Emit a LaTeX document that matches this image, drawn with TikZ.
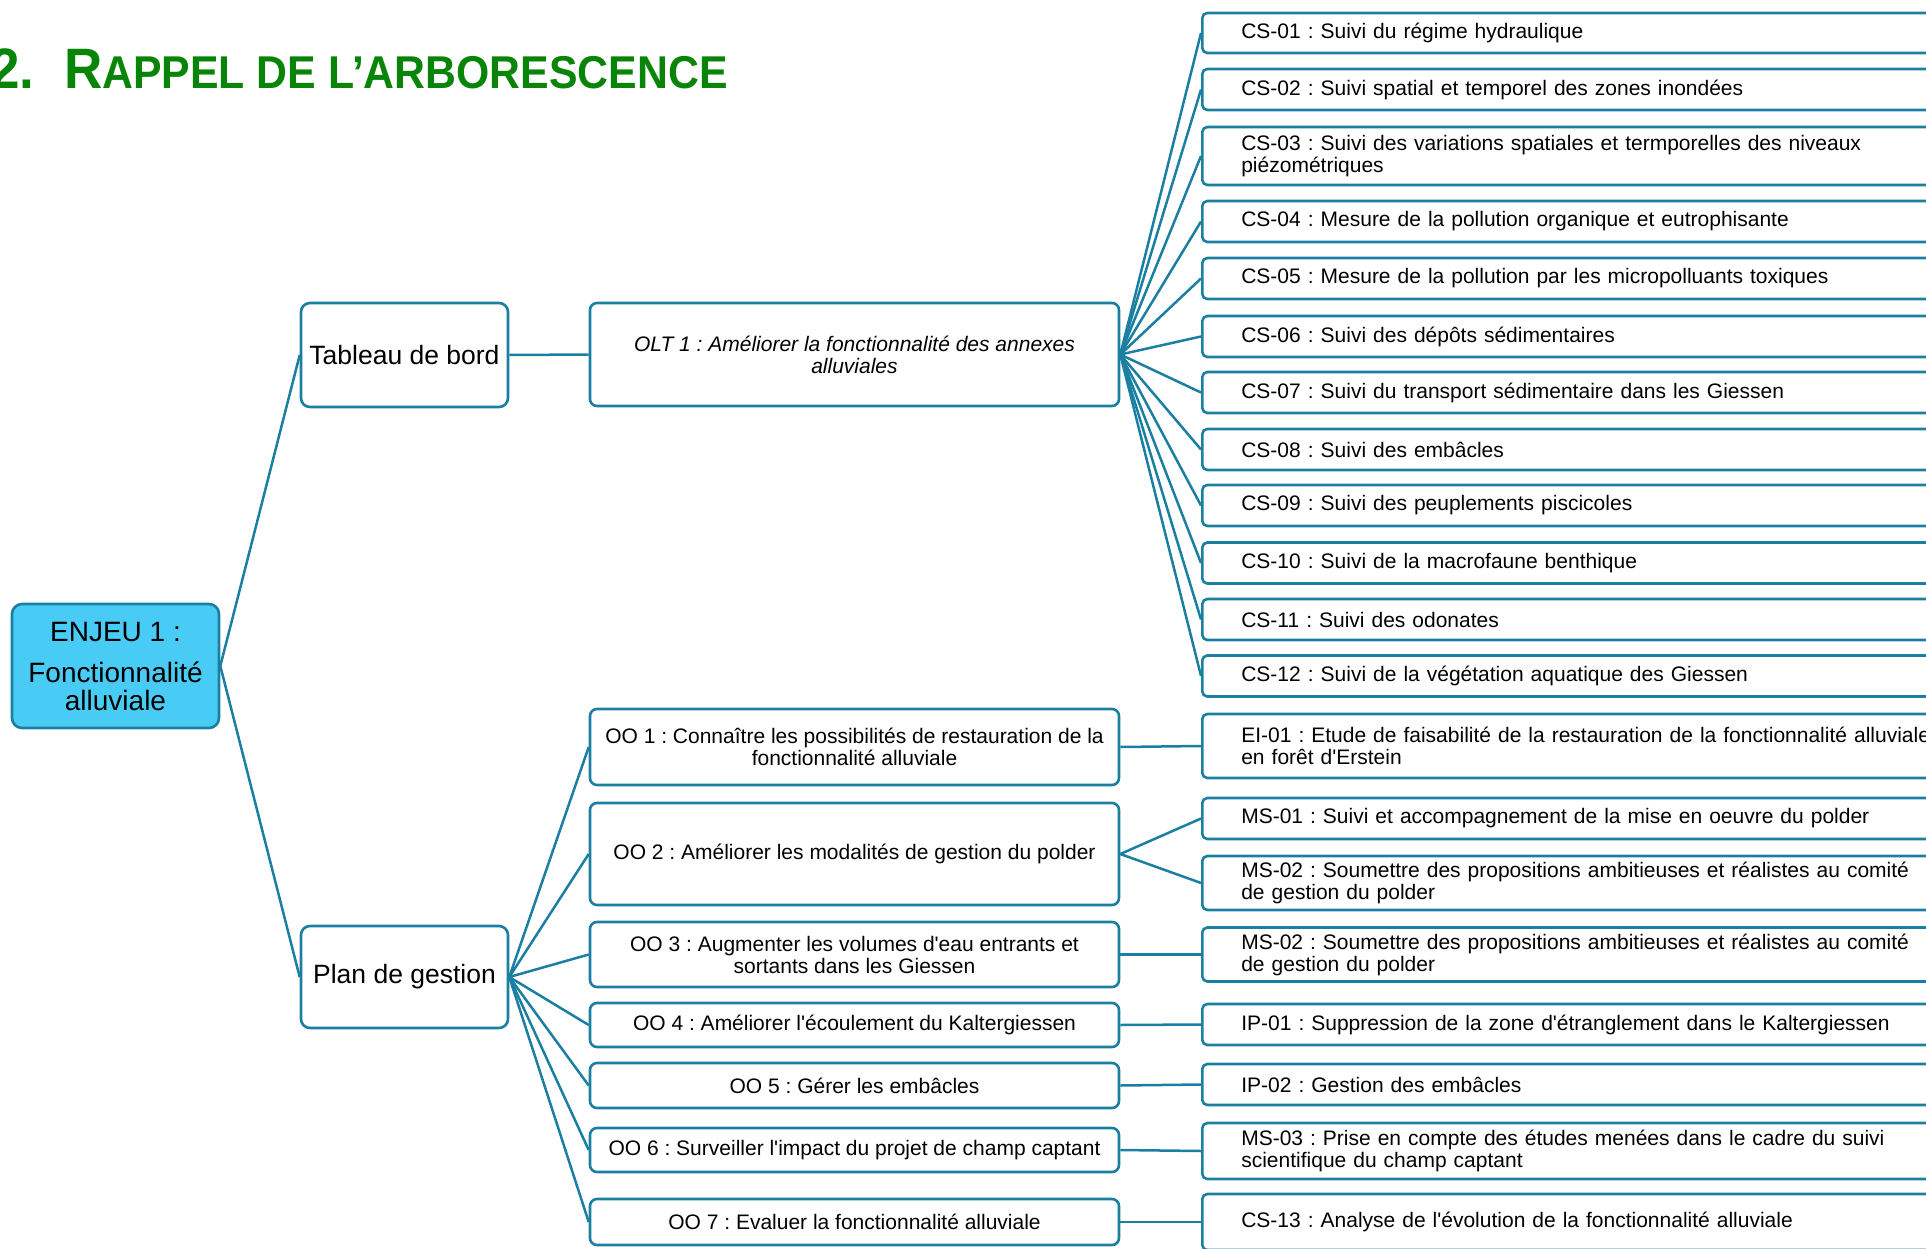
\documentclass[tikz,border=0pt]{standalone}
\usepackage{fontspec}
\setmainfont{Liberation Sans}[Ligatures=TeXOff]
\frenchspacing
\definecolor{lien}{HTML}{1B7FA2}
\definecolor{enjeubleu}{HTML}{48CCF6}
\definecolor{titrevert}{HTML}{088508}

\begin{document}
\begin{tikzpicture}[
    x=1pt, y=-1pt,
    boite/.style={draw=lien, line width=2.6pt, fill=white, align=center, inner sep=0pt},
    gros/.style={boite, rounded corners=9pt, minimum width=207pt,
                 font=\fontsize{26.5}{30}\selectfont},
    objectif/.style={boite, rounded corners=7pt, minimum width=529pt,
                     font=\fontsize{21}{22}\selectfont},
    action/.style={boite, anchor=west, rounded corners=5pt, align=left,
                   text width=722pt, inner xsep=39pt, font=\fontsize{21}{22}\selectfont},
    lien/.style={draw=lien, line width=2.5pt},
  ]
    \useasboundingbox (0,0) rectangle (1926,1249);
    \clip (0,0) rectangle (1926,1249);

    % titre
    \node[anchor=base west, inner sep=0pt, text=titrevert, font=\bfseries] (titre) at (-10, 89)
      {\scalebox{0.93}[1]{\fontsize{57}{57}\selectfont 2.\hspace{32pt}R\fontsize{46}{46}\selectfont APPEL DE L’ARBORESCENCE}};

    % enjeu et outils
    \node[boite, fill=enjeubleu, rounded corners=10pt, minimum width=207pt, minimum height=124pt,
          font=\fontsize{28}{28}\selectfont] (enjeu) at (115.5, 666)
      {ENJEU 1 :\\[13pt]Fonctionnalité\\alluviale};
    \node[gros, minimum height=104pt] (tdb) at (404.5, 355) {Tableau de bord};
    \node[gros, minimum height=102pt] (pdg) at (404.5, 977) {Plan de gestion};

    % objectifs
    \node[objectif, minimum height=103pt, font=\fontsize{21}{22}\selectfont\itshape] (olt) at (854.5, 354.5)
      {OLT 1 : Améliorer la fonctionnalité des annexes\\alluviales};
    \node[objectif, minimum height=76pt]  (oo1) at (854.5, 747)
      {OO 1 : Connaître les possibilités de restauration de la\\fonctionnalité alluviale};
    \node[objectif, minimum height=102pt] (oo2) at (854.5, 854) {OO 2 : Améliorer les modalités de gestion du polder};
    \node[objectif, minimum height=65pt]  (oo3) at (854.5, 954.5)
      {OO 3 : Augmenter les volumes d'eau entrants et\\sortants dans les Giessen};
    \node[objectif, minimum height=44pt]  (oo4) at (854.5, 1025) {OO 4 : Améliorer l'écoulement du Kaltergiessen};
    \node[objectif, minimum height=45pt]  (oo5) at (854.5, 1085.5) {OO 5 : Gérer les embâcles};
    \node[objectif, minimum height=44pt]  (oo6) at (854.5, 1150) {OO 6 : Surveiller l'impact du projet de champ captant};
    \node[objectif, minimum height=46pt]  (oo7) at (854.5, 1222) {OO 7 : Evaluer la fonctionnalité alluviale};

    % fiches du tableau de bord
    \node[action, minimum height=40pt] (cs01) at (1201, 33)    {CS-01 : Suivi du régime hydraulique};
    \node[action, minimum height=41pt] (cs02) at (1201, 89.5)  {CS-02 : Suivi spatial et temporel des zones inondées};
    \node[action, minimum height=58pt] (cs03) at (1201, 156)
      {CS-03 : Suivi des variations spatiales et termporelles des niveaux\\piézométriques};
    \node[action, minimum height=41pt] (cs04) at (1201, 221.5) {CS-04 : Mesure de la pollution organique et eutrophisante};
    \node[action, minimum height=41pt] (cs05) at (1201, 278.5) {CS-05 : Mesure de la pollution par les micropolluants toxiques};
    \node[action, minimum height=41pt] (cs06) at (1201, 336.5) {CS-06 : Suivi des dépôts sédimentaires};
    \node[action, minimum height=41pt] (cs07) at (1201, 392.5) {CS-07 : Suivi du transport sédimentaire dans les Giessen};
    \node[action, minimum height=41pt] (cs08) at (1201, 449.5) {CS-08 : Suivi des embâcles};
    \node[action, minimum height=41pt] (cs09) at (1201, 505.5) {CS-09 : Suivi des peuplements piscicoles};
    \node[action, minimum height=41pt] (cs10) at (1201, 563)   {CS-10 : Suivi de la macrofaune benthique};
    \node[action, minimum height=41pt] (cs11) at (1201, 619.5) {CS-11 : Suivi des odonates};
    \node[action, minimum height=41pt] (cs12) at (1201, 676)   {CS-12 : Suivi de la végétation aquatique des Giessen};

    % fiches du plan de gestion
    \node[action, minimum height=64pt] (ei01) at (1201, 746)
      {EI-01 : Etude de faisabilité de la restauration de la fonctionnalité alluviale\\en forêt d'Erstein};
    \node[action, minimum height=41pt] (ms01) at (1201, 818.5) {MS-01 : Suivi et accompagnement de la mise en oeuvre du polder};
    \node[action, minimum height=54pt] (ms02a) at (1201, 883)
      {MS-02 : Soumettre des propositions ambitieuses et réalistes au comité\\de gestion du polder};
    \node[action, minimum height=54pt] (ms02b) at (1201, 954.5)
      {MS-02 : Soumettre des propositions ambitieuses et réalistes au comité\\de gestion du polder};
    \node[action, minimum height=41pt] (ip01) at (1201, 1024.5) {IP-01 : Suppression de la zone d'étranglement dans le Kaltergiessen};
    \node[action, minimum height=41pt] (ip02) at (1201, 1084.5) {IP-02 : Gestion des embâcles};
    \node[action, minimum height=56pt] (ms03) at (1201, 1151)
      {MS-03 : Prise en compte des études menées dans le cadre du suivi\\scientifique du champ captant};
    \node[action, minimum height=56pt] (cs13) at (1201, 1222) {CS-13 : Analyse de l'évolution de la fonctionnalité alluviale};

    % liens
    \draw[lien] (enjeu.east) -- (tdb.west);
    \draw[lien] (enjeu.east) -- (pdg.west);
    \draw[lien] (tdb.east) -- (olt.west);

    \draw[lien] (olt.east) -- (cs01.west);
    \draw[lien] (olt.east) -- (cs02.west);
    \draw[lien] (olt.east) -- (cs03.west);
    \draw[lien] (olt.east) -- (cs04.west);
    \draw[lien] (olt.east) -- (cs05.west);
    \draw[lien] (olt.east) -- (cs06.west);
    \draw[lien] (olt.east) -- (cs07.west);
    \draw[lien] (olt.east) -- (cs08.west);
    \draw[lien] (olt.east) -- (cs09.west);
    \draw[lien] (olt.east) -- (cs10.west);
    \draw[lien] (olt.east) -- (cs11.west);
    \draw[lien] (olt.east) -- (cs12.west);

    \draw[lien] (pdg.east) -- (oo1.west);
    \draw[lien] (pdg.east) -- (oo2.west);
    \draw[lien] (pdg.east) -- (oo3.west);
    \draw[lien] (pdg.east) -- (oo4.west);
    \draw[lien] (pdg.east) -- (oo5.west);
    \draw[lien] (pdg.east) -- (oo6.west);
    \draw[lien] (pdg.east) -- (oo7.west);

    \draw[lien] (oo1.east) -- (ei01.west);
    \draw[lien] (oo2.east) -- (ms01.west);
    \draw[lien] (oo2.east) -- (ms02a.west);
    \draw[lien] (oo3.east) -- (ms02b.west);
    \draw[lien] (oo4.east) -- (ip01.west);
    \draw[lien] (oo5.east) -- (ip02.west);
    \draw[lien] (oo6.east) -- (ms03.west);
    \draw[lien] (oo7.east) -- (cs13.west);
  \end{tikzpicture}
\end{document}
